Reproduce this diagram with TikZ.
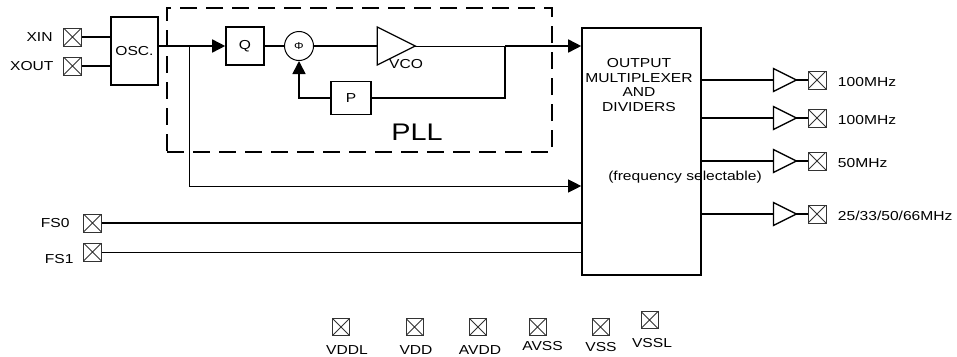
\documentclass[tikz,border=0pt]{standalone}
\usepackage{fontspec}
\setmainfont{Liberation Sans}[FakeStretch=1.2]
\usetikzlibrary{shapes.geometric,arrows.meta,positioning,calc}
\tikzset{
    dashed_block/.style={
        draw,
        line width=1.6pt,
        dash pattern=on 17pt off 9pt,
        rectangle
    },
    block/.style={
        draw,
        rectangle,
        line width=1.6pt,
        inner sep=0pt
    },
    operator/.style={
        draw,
        circle,
        line width=1pt,
        minimum size=29pt,
        inner sep=0pt
    },
    gain/.style={
        draw,
        isosceles triangle,
        isosceles triangle stretches,
        line width=1.3pt,
        inner sep=0pt,
        outer sep=0pt,
        minimum width=23pt,
        minimum height=23pt
    },
    pin/.style={
        draw=black!80,
        line width=0.9pt,
        rectangle,
        minimum size=18pt,
        inner sep=0pt,
        path picture={
            \draw[black!80, line width=0.9pt]
                (path picture bounding box.south west) -- (path picture bounding box.north east)
                (path picture bounding box.north west) -- (path picture bounding box.south east);
        }
    },
    wire/.style={line width=1.6pt},
    thinwire/.style={line width=0.8pt},
    tip/.style={-{Triangle[length=13pt,width=13pt]}},
}

\begin{document}
\begin{tikzpicture}[x=1pt, y=-1pt, node distance=4pt and 8pt, font=\fontsize{13}{14.5}\selectfont]
    \useasboundingbox (0,0) rectangle (957,356);

    % clock input and oscillator
    \node[pin] (xin) at (72.5,37) {};
    \node[pin] (xout) at (72.5,66) {};
    \node[left=7pt of xin] (xin_lbl) {XIN};
    \node[left=6pt of xout] (xout_lbl) {XOUT};
    \node[block, minimum width=47pt, minimum height=68pt] (osc) at (134.5,51) {OSC.};
    \draw[wire] (xin) -- (xin -| osc.west);
    \draw[wire] (xout) -- (xout -| osc.west);

    % PLL
    \node[dashed_block, minimum width=385pt, minimum height=144pt] (pll) at (359.5,80) {};
    \node[font=\fontsize{24}{28}\selectfont] (pll_lbl) at (417,132) {PLL};
    \node[block, minimum size=38pt] (q) at (245,46) {Q};
    \node[operator] (phi) at (299,46) {\fontsize{10}{11}\selectfont Φ};
    \node[gain, minimum width=38pt, minimum height=38pt] (vco) at (389,46) {};
    \node (vco_lbl) at (406,64) {VCO};
    \node[block, minimum width=40pt, minimum height=33pt] (p) at (351,98) {P};

    % output multiplexer
    \node[block, minimum width=119pt, minimum height=247pt] (mux) at (641.5,151.5) {};
    \node[align=center] (mux_lbl) at (639,85) {OUTPUT\\MULTIPLEXER\\AND\\DIVIDERS};
    \node (sel_lbl) at (685,177) {(frequency selectable)};

    \coordinate (split) at (189,46);
    \coordinate (tap) at (505,46);

    \draw[wire, tip] (osc.east |- q) -- (q.west);
    \draw[wire] (q) -- (phi);
    \draw[wire] (phi) -- (vco.west);
    \draw[thinwire] (vco.apex) -- (tap);
    \draw[wire, tip] (tap) -- (mux.west |- tap);
    \draw[wire] (tap) |- (p.east);
    \draw[wire, tip] (p.west) -| (phi.south);
    \draw[thinwire] (split) -- ++(0,140) coordinate (bypass);
    \draw[thinwire, tip] (bypass) -- (bypass -| mux.west);

    % clock outputs
    \foreach \y/\f [count=\i] in {80/100MHz, 118/100MHz, 161/50MHz, 214/{25/33/50/66MHz}} {
        \node[gain] (buf\i) at (780.5,\y) {};
        \node[pin] (clk\i) at (817,\y) {};
        \node[right=8pt of clk\i, yshift=-2pt] (clk_lbl\i) {\f};
        \draw[wire] (mux.east |- buf\i) -- (buf\i.west);
        \draw[wire] (buf\i.apex) -- (clk\i);
    }

    % frequency select
    \node[pin] (fs0) at (92.5,223) {};
    \node[pin] (fs1) at (92.5,252) {};
    \node[left=10pt of fs0] (fs0_lbl) {FS0};
    \node[left=6pt of fs1, yshift=-7pt] (fs1_lbl) {FS1};
    \draw[wire] (fs0) -- (fs0 -| mux.west);
    \draw[thinwire] (fs1) -- (fs1 -| mux.west);

    % power pins
    \foreach \x/\by/\lx/\ly/\n in {341/327/347/350/VDDL, 414.5/327/416/350/VDD, 478/327/480/350/AVDD,
                                   537.5/327/542.5/346/AVSS, 600.5/327/601/347/VSS, 649.5/320/652/343/VSSL} {
        \node[pin, minimum size=17pt] (pwr_\n) at (\x,\by) {};
        \node (pwr_lbl_\n) at (\lx,\ly) {\n};
    }
\end{tikzpicture}
\end{document}
